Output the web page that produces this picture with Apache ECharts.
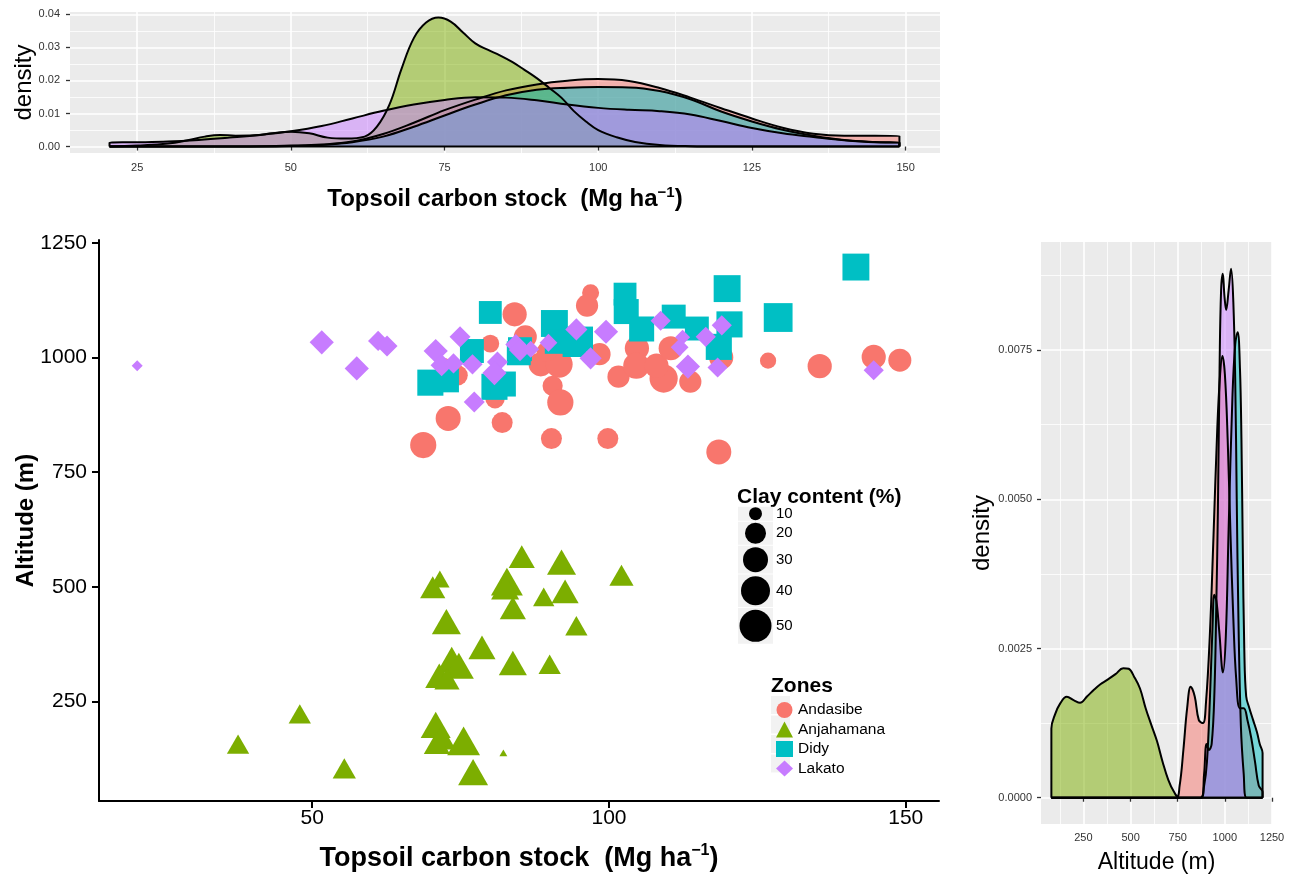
<!DOCTYPE html>
<html>
<head>
<meta charset="utf-8">
<title>Topsoil carbon stock and altitude by zone</title>
<script src="https://cdn.jsdelivr.net/npm/echarts@6/dist/echarts.min.js"></script>
<style>
html, body { margin: 0; padding: 0; background: #fff; }
#main { width: 1291px; height: 877px; }
</style>
</head>
<body>
<div id="main"></div>
<script>
// ---- data: [carbon stock (Mg/ha), altitude (m), clay (%)] ----
var andasibePts = [
  [68.7, 809, 33], [72.9, 867, 30], [82.0, 858, 20], [84.1, 1094, 28], [80.0, 1030, 16],
  [74.5, 961, 19], [72.1, 980, 16], [80.8, 910, 18], [85.9, 1045, 25], [88.5, 985, 28],
  [91.6, 985, 35], [90.5, 938, 19], [91.8, 902, 33], [90.3, 823, 20], [99.8, 823, 20],
  [118.5, 794, 30], [96.9, 1141, 15], [96.3, 1113, 23], [98.4, 1007, 23], [101.6, 958, 23],
  [104.7, 1020, 28], [104.6, 982, 33], [109.2, 954, 38], [108.0, 982, 28], [110.4, 1020, 28],
  [113.7, 947, 23], [118.9, 1000, 28], [126.8, 993, 14], [135.5, 981, 28], [144.6, 1001, 28],
  [149.0, 994, 25], [89.5, 1012, 19]
];
var anjahamanaPts = [
  [37.5, 157, 17], [47.9, 223, 17], [55.4, 104, 18], [85.3, 566, 22], [92.0, 554, 28],
  [102.1, 525, 19], [71.5, 517, 14], [70.3, 499, 20], [82.8, 511, 34], [82.5, 499, 26],
  [83.8, 454, 22], [89.0, 478, 16], [92.6, 490, 24], [94.5, 415, 17], [72.6, 424, 28],
  [78.6, 368, 24], [83.8, 334, 26], [90.0, 331, 17], [73.5, 342, 28], [74.7, 328, 30],
  [71.4, 306, 26], [72.7, 300, 20], [70.8, 199, 30], [71.8, 172, 26], [71.0, 160, 22],
  [75.5, 164, 36], [77.1, 96, 30], [82.2, 138, 2]
];
var didyPts = [
  [80.0, 1098, 31], [69.9, 945, 40], [72.7, 950, 34], [76.9, 1014, 34], [80.7, 936, 40],
  [82.2, 942, 37], [85.0, 1018, 34], [90.8, 1074, 43], [94.2, 1027, 34], [84.8, 1009, 34],
  [95.2, 1040, 37], [102.7, 1138, 31], [102.9, 1100, 37], [105.5, 1062, 37], [110.9, 1089, 34],
  [114.8, 1063, 34], [119.9, 1150, 43], [120.3, 1072, 40], [118.5, 1023, 40], [128.5, 1087, 50],
  [141.6, 1197, 43], [91.2, 1034, 34]
];
var lakatoPts = [
  [20.5, 982, 7.5], [51.6, 1033, 28], [57.5, 976, 28], [61.1, 1036, 19], [62.6, 1025, 20],
  [70.8, 1014, 28], [74.9, 1045, 20], [71.8, 983, 23], [73.8, 987, 19], [77.0, 985, 19],
  [81.2, 990, 20], [80.7, 966, 28], [77.3, 903, 20], [84.3, 1028, 20], [85.0, 1016, 23],
  [86.8, 1018, 15], [89.8, 1032, 16], [94.5, 1061, 23], [96.9, 998, 23], [99.5, 1056, 28],
  [108.7, 1080, 19], [112.4, 1044, 12.5], [111.9, 1022, 16], [116.3, 1045, 19], [119.0, 1070, 19],
  [113.3, 980, 28], [118.3, 978, 19], [144.6, 972, 19]
];

// density of carbon stock by zone [carbon, density]
var andasibeCarbonDens = [[20.5,0],[40,0],[50,0.0003],[55,0.0006],[60,0.0015],[65,0.0038],[70,0.0072],[75,0.011],[80,0.0142],[85,0.017],[90,0.0188],[95,0.0199],[100,0.0204],[105,0.0198],[110,0.0177],[115,0.0148],[120,0.0116],[125,0.0085],[130,0.0057],[135,0.0039],[140,0.0033],[145,0.0033],[149,0.0032],[149,0]];
var anjahamanaCarbonDens = [[20.5,0],[20.5,0.0001],[25,0.0003],[30,0.0009],[33,0.0018],[36,0.003],[38.5,0.0035],[41,0.0033],[44,0.0034],[47,0.004],[50,0.0045],[53,0.004],[56,0.0027],[59,0.0024],[62,0.003],[64,0.006],[66,0.0125],[68,0.0235],[70,0.0328],[72,0.0375],[74,0.039],[76,0.0378],[78,0.0345],[80,0.0312],[82,0.0293],[84,0.0276],[86,0.0256],[88,0.0232],[90,0.0207],[92,0.0178],[94,0.0148],[96,0.0108],[98,0.0076],[100,0.005],[103,0.0028],[106,0.0014],[110,0.0005],[115,0.0001],[120,0],[149,0]];
var didyCarbonDens = [[20.5,0],[45,0],[50,0.0002],[55,0.0005],[60,0.0013],[65,0.003],[70,0.006],[75,0.0094],[80,0.0127],[85,0.0155],[90,0.0172],[95,0.0178],[100,0.018],[105,0.0179],[110,0.0168],[115,0.0143],[120,0.0106],[125,0.0076],[130,0.0051],[135,0.0033],[140,0.002],[145,0.0014],[149,0.0012],[149,0]];
var lakatoCarbonDens = [[20.5,0],[20.5,0.0012],[25,0.0013],[30,0.0015],[35,0.002],[40,0.0027],[45,0.0035],[50,0.0046],[55,0.0062],[60,0.0085],[65,0.0108],[70,0.0127],[75,0.0141],[80,0.0149],[85,0.0148],[90,0.014],[95,0.0127],[100,0.0117],[105,0.0111],[110,0.0107],[115,0.0097],[120,0.0077],[125,0.0056],[130,0.004],[135,0.0029],[140,0.0019],[145,0.0013],[149,0.0012],[149,0]];

// density of altitude by zone [altitude, density]
var andasibeAltDens = [[80,0],[740,0],[760,0.0002],[780,0.0008],[800,0.0015],[819,0.00186],[840,0.0017],[862,0.0013],[884,0.00125],[900,0.0016],[920,0.0027],[940,0.0044],[960,0.0062],[975,0.0071],[987,0.0074],[1000,0.0071],[1015,0.006],[1030,0.0044],[1045,0.003],[1060,0.002],[1080,0.0015],[1100,0.0015],[1120,0.0013],[1140,0.001],[1160,0.0006],[1180,0.0002],[1200,0.0001],[1200,0]];
var anjahamanaAltDens = [[80,0],[80,0.00116],[100,0.0014],[127,0.00158],[162,0.00169],[200,0.00163],[232,0.00159],[270,0.0017],[303,0.0018],[340,0.0019],[374,0.00197],[420,0.00207],[461,0.00217],[490,0.00216],[520,0.00202],[550,0.00183],[580,0.0015],[610,0.00122],[640,0.00095],[670,0.0006],[700,0.0003],[730,0.0001],[760,0],[1200,0]];
var didyAltDens = [[80,0],[870,0],[890,0.0002],[905,0.0006],[920,0.0016],[935,0.0029],[944,0.0034],[955,0.0033],[970,0.0028],[990,0.0021],[1005,0.0027],[1020,0.0045],[1040,0.0067],[1055,0.0076],[1068,0.0078],[1080,0.0072],[1088,0.006],[1095,0.0042],[1103,0.0025],[1113,0.0017],[1130,0.0015],[1150,0.0013],[1170,0.0011],[1185,0.0009],[1200,0.00075],[1200,0]];
var lakatoAltDens = [[80,0],[875,0],[890,0.0004],[903,0.0009],[915,0.0008],[930,0.0009],[945,0.0018],[955,0.0033],[963,0.0048],[972,0.0072],[980,0.0085],[989,0.00878],[998,0.0084],[1007,0.00817],[1020,0.0085],[1033,0.00886],[1045,0.0083],[1055,0.007],[1063,0.005],[1072,0.003],[1085,0.0012],[1100,0.0004],[1115,0],[1200,0]];

// ticks
var carbonTicks = [25, 50, 75, 100, 125, 150];
var carbonMinor = [37.5, 62.5, 87.5, 112.5, 137.5];
var densTopTicks = [0, 0.01, 0.02, 0.03, 0.04];
var densTopMinor = [0.005, 0.015, 0.025, 0.035];
var mainXTicks = [50, 100, 150];
var altTicks = [250, 500, 750, 1000, 1250];
var altDensXTicks = [250, 500, 750, 1000, 1250];
var altDensXMinor = [125, 375, 625, 875, 1125];
var altDensYTicks = [0, 0.0025, 0.005, 0.0075];
var altDensYMinor = [0.00125, 0.00375, 0.00625, 0.00875];
var clayBreaks = [10, 20, 30, 40, 50];

var zoneNames = ['Andasibe', 'Anjahamana', 'Didy', 'Lakato'];
var zoneColors = ['#F8766D', '#7CAE00', '#00BFC4', '#C77CFF'];
var zoneSymbols = ['circle', 'triangle', 'rect', 'diamond'];

var FONT = "'Liberation Sans', Arial, Helvetica, sans-serif";

// size scale (diameter in px for clay %)
var claySizeStops = [[0, 5], [10, 13], [20, 21], [30, 25], [40, 29], [50, 32]];
var shapeScale = { circle: 1, rect: 0.9, triangle: 1.2, diamond: 1.0 };
function clayDiam(v) {
  var s = claySizeStops;
  for (var i = 1; i < s.length; i++) {
    if (v <= s[i][0] || i === s.length - 1) {
      var t = (v - s[i-1][0]) / (s[i][0] - s[i-1][0]);
      return s[i-1][1] + t * (s[i][1] - s[i-1][1]);
    }
  }
}
function plain(v) { return String(v); }

var myChart = echarts.init(document.getElementById('main'));

function scatterSeries(i, pts) {
  var sym = zoneSymbols[i];
  return {
    name: zoneNames[i], type: 'scatter', xAxisIndex: 2, yAxisIndex: 2,
    data: pts, symbol: sym,
    symbolSize: function (val) {
      var d = clayDiam(val[2]) * shapeScale[sym];
      return sym === 'triangle' ? [d, d * 0.87] : d;
    },
    itemStyle: { color: zoneColors[i], opacity: 1 },
    emphasis: { disabled: true }
  };
}

function densitySeries(i, pts, xi, yi) {
  return {
    name: zoneNames[i] + ' density', type: 'line', xAxisIndex: xi, yAxisIndex: yi,
    data: pts, symbol: 'none', showSymbol: false,
    smooth: 0.4,
    lineStyle: { color: '#000', width: 2 },
    areaStyle: { color: zoneColors[i], opacity: 0.5 },
    silent: true
  };
}

function baseline(pts, xi, yi) {
  return {
    type: 'line', xAxisIndex: xi, yAxisIndex: yi, symbol: 'none', silent: true, z: 3,
    data: [[pts[0][0], 0], [pts[pts.length - 1][0], 0]],
    lineStyle: { color: '#000', width: 2 }
  };
}

// gray panel axes (ggplot theme_gray look)
function grayAxis(grid, min, max, ticks, fmt, margin) {
  return {
    gridIndex: grid, type: 'value', min: min, max: max,
    nameMoveOverlap: false,
    axisLine: { show: false },
    axisTick: { show: true, customValues: ticks, length: 4, lineStyle: { color: '#333', width: 1.3 } },
    axisLabel: { customValues: ticks, fontSize: 11, color: '#333', margin: margin, fontFamily: FONT, formatter: fmt || plain },
    splitLine: { show: true, lineStyle: { color: '#fff', width: 1.6 } }
  };
}
function minorAxis(grid, min, max, ticks) {
  return {
    gridIndex: grid, type: 'value', min: min, max: max,
    axisLine: { show: false },
    axisTick: { show: false, customValues: ticks },
    axisLabel: { show: false },
    splitLine: { show: true, lineStyle: { color: '#fff', width: 0.8 } }
  };
}
function classicAxis(grid, min, max, ticks, margin) {
  return {
    gridIndex: grid, type: 'value', min: min, max: max,
    nameMoveOverlap: false,
    axisLine: { show: true, onZero: false, lineStyle: { color: '#000', width: 2 } },
    axisTick: { show: true, customValues: ticks, length: 7, lineStyle: { color: '#000', width: 2 } },
    axisLabel: { customValues: ticks, fontSize: 21, color: '#000', margin: margin, fontFamily: FONT, formatter: plain },
    splitLine: { show: false }
  };
}

var carbonTitleRich = {
  t: { fontSize: 24, fontWeight: 'bold', fontFamily: FONT, color: '#000', lineHeight: 28 },
  s: { fontSize: 15, fontWeight: 'bold', fontFamily: FONT, color: '#000', lineHeight: 12, verticalAlign: 'top' }
};
var carbonTitleRichMain = {
  t: { fontSize: 27, fontWeight: 'bold', fontFamily: FONT, color: '#000', lineHeight: 32 },
  s: { fontSize: 16, fontWeight: 'bold', fontFamily: FONT, color: '#000', lineHeight: 13, verticalAlign: 'top' }
};
var carbonTitle = '{t|Topsoil carbon stock  (Mg ha}{s|\u22121}{t|)}';

var xTop = grayAxis(0, 14.07, 155.6, carbonTicks, null, 9);
xTop.name = carbonTitle; xTop.nameLocation = 'middle'; xTop.nameGap = 32;
xTop.nameTextStyle = { rich: carbonTitleRich };
var yTop = grayAxis(0, -0.00195, 0.0407, densTopTicks, function (v) { return v.toFixed(2); }, 10);
yTop.name = 'density'; yTop.nameLocation = 'middle'; yTop.nameGap = 34;
yTop.nameTextStyle = { fontSize: 24, color: '#000', fontFamily: FONT };

var xMain = classicAxis(1, 14.07, 155.6, mainXTicks, 7);
xMain.name = carbonTitle; xMain.nameLocation = 'middle'; xMain.nameGap = 42;
xMain.nameTextStyle = { rich: carbonTitleRichMain };
var yMain = classicAxis(1, 33, 1256, altTicks, 12);
yMain.name = 'Altitude (m)'; yMain.nameLocation = 'middle'; yMain.nameGap = 61;
yMain.nameTextStyle = { fontSize: 24, fontWeight: 'bold', color: '#000', fontFamily: FONT };

var xRight = grayAxis(2, 25, 1250, altDensXTicks, null, 8);
xRight.name = 'Altitude (m)'; xRight.nameLocation = 'middle'; xRight.nameGap = 27;
xRight.nameTextStyle = { fontSize: 23, color: '#000', fontFamily: FONT };
var yRight = grayAxis(2, -0.00044, 0.00931, altDensYTicks, function (v) { return v.toFixed(4); }, 9);
yRight.name = 'density'; yRight.nameLocation = 'middle'; yRight.nameGap = 47;
yRight.nameTextStyle = { fontSize: 24, color: '#000', fontFamily: FONT };

// legend titles, key backgrounds and the size legend built from clayBreaks
var legendTop = 697, legendRow = 19.5;
var graphics = [{
  type: 'text', x: 737, y: 497,
  style: { text: 'Clay content (%)', font: 'bold 21px ' + FONT, fill: '#000', verticalAlign: 'middle' }
}, {
  type: 'text', x: 771, y: 686,
  style: { text: 'Zones', font: 'bold 21px ' + FONT, fill: '#000', verticalAlign: 'middle' }
}];
zoneNames.forEach(function (n, i) {
  graphics.push({ type: 'rect', z: -1, shape: { x: 771, y: legendTop + i * legendRow - 1, width: 19, height: 18 }, style: { fill: '#F2F2F2' } });
});
var cy = 513.7, prevH = null;
clayBreaks.forEach(function (b) {
  var d = clayDiam(b), h = d * 1.15;
  if (prevH !== null) cy += (prevH + h) / 2;
  prevH = h;
  graphics.push({ type: 'rect', shape: { x: 738, y: cy - h / 2 + 0.5, width: 35, height: h - 1 }, style: { fill: '#F2F2F2' } });
  graphics.push({ type: 'circle', shape: { cx: 755.5, cy: cy, r: d / 2 }, style: { fill: '#000' } });
  graphics.push({ type: 'text', x: 776, y: cy, style: { text: String(b), font: '15px ' + FONT, fill: '#000', verticalAlign: 'middle' } });
});

var option = {
  animation: false,
  backgroundColor: '#fff',
  textStyle: { fontFamily: FONT },
  grid: [
    { left: 70, top: 12, width: 870, height: 141, show: true, backgroundColor: '#EBEBEB', borderWidth: 0, containLabel: false, outerBoundsMode: 'none' },
    { left: 99, top: 240, width: 840, height: 561, show: false, containLabel: false, outerBoundsMode: 'none' },
    { left: 1041, top: 242, width: 231, height: 582, show: true, backgroundColor: '#EBEBEB', borderWidth: 0, containLabel: false, outerBoundsMode: 'none' }
  ],
  xAxis: [xTop, minorAxis(0, 14.07, 155.6, carbonMinor), xMain, xRight, minorAxis(2, 25, 1250, altDensXMinor)],
  yAxis: [yTop, minorAxis(0, -0.00195, 0.0407, densTopMinor), yMain, yRight, minorAxis(2, -0.00044, 0.00931, altDensYMinor)],
  legend: {
    data: zoneNames.map(function (n, i) { return { name: n, icon: zoneSymbols[i] }; }),
    orient: 'vertical', left: 771, top: legendTop,
    itemWidth: 17, itemHeight: 16, itemGap: legendRow - 16, selectedMode: false,
    textStyle: { fontSize: 15.5, color: '#000', fontFamily: FONT }
  },
  graphic: graphics,
  series: [
    densitySeries(0, andasibeCarbonDens, 0, 0),
    densitySeries(1, anjahamanaCarbonDens, 0, 0),
    densitySeries(2, didyCarbonDens, 0, 0),
    densitySeries(3, lakatoCarbonDens, 0, 0),
    baseline(andasibeCarbonDens, 0, 0),
    scatterSeries(0, andasibePts),
    scatterSeries(1, anjahamanaPts),
    scatterSeries(2, didyPts),
    scatterSeries(3, lakatoPts),
    densitySeries(0, andasibeAltDens, 3, 3),
    densitySeries(1, anjahamanaAltDens, 3, 3),
    densitySeries(2, didyAltDens, 3, 3),
    densitySeries(3, lakatoAltDens, 3, 3),
    baseline(andasibeAltDens, 3, 3)
  ]
};

myChart.setOption(option);
</script>
</body>
</html>
